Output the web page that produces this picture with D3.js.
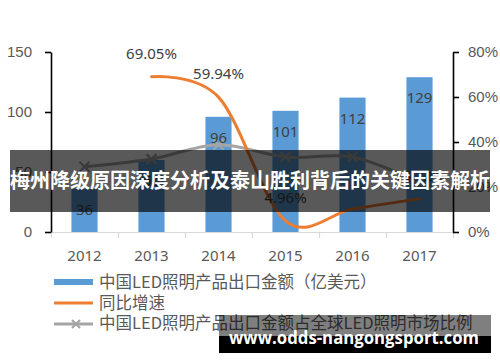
<!DOCTYPE html>
<html><head><meta charset="utf-8">
<script src="https://cdn.jsdelivr.net/npm/d3@7"></script>
<style>
html,body{margin:0;padding:0;background:#fff;}
svg{display:block;font-family:"Noto Sans","Noto Sans CJK SC",sans-serif;}
</style></head>
<body>
<svg id="c" width="500" height="362"></svg>
<script>
const years = ["2012","2013","2014","2015","2016","2017"];
const exportValues = [36, 60, 96, 101, 112, 129];
const growthYears = ["2013","2014","2015","2016","2017"];
const growthValues = [0.6905, 0.5994, 0.0496, 0.102, 0.1472];
const growthLabels = ["69.05%","59.94%","4.96%","","14.72%"];
const shareValues = [0.29, 0.324, 0.388, 0.333, 0.333, 0.22];
const leftTicks = [0, 50, 100, 150];
const rightTicks = [0, 0.2, 0.4, 0.6, 0.8];
const legendLabels = ["中国LED照明产品出口金额（亿美元）","同比增速","中国LED照明产品出口金额占全球LED照明市场比例"];
const bannerText = "梅州降级原因深度分析及泰山胜利背后的关键因素解析";
const watermarkText = "www.odds-nangongsport.com";

const BLUE="#5b9bd5", ORANGE="#ed7d31", GRAY="#a5a5a5", TXT="#595959", LBL="#404040";
const svg = d3.select("#c");
const L=51, R=453, T=52, B=232;

const x = d3.scaleBand().domain(years).range([L,R]).padding(0);
const xb = d3.scaleLinear().domain([0,years.length]).range([L,R]);
const yL = d3.scaleLinear().domain([0,150]).range([B,T]);
const yR = d3.scaleLinear().domain([0,0.8]).range([B,T]);
const cx = d => x(d) + x.bandwidth()/2;
const bw = x.bandwidth()*0.39;

// bottom axis ticks (category boundaries)
const gb = svg.append("g").attr("transform",`translate(0,${B})`)
  .call(d3.axisBottom(xb).tickValues(d3.range(years.length+1)).tickFormat("").tickSize(6).tickSizeOuter(0));
gb.selectAll("line,path").attr("stroke","#d9d9d9").attr("stroke-width",1.2);
const gbl = svg.append("g").attr("transform",`translate(0,${B})`)
  .call(d3.axisBottom(x).tickSize(0).tickPadding(18));
gbl.select(".domain").remove();
gbl.selectAll("text").attr("font-size",15).attr("fill",TXT).attr("font-family",'"Noto Sans",sans-serif');

// bars
svg.append("g").selectAll("rect").data(years).join("rect")
  .attr("x",(d)=>cx(d)-bw/2).attr("width",bw)
  .attr("y",(d,i)=>yL(exportValues[i])).attr("height",(d,i)=>B-yL(exportValues[i]))
  .attr("fill",BLUE);

// left axis
const gl = svg.append("g").attr("transform",`translate(${L},0)`)
  .call(d3.axisLeft(yL).tickValues(leftTicks).tickSize(6).tickSizeOuter(0).tickPadding(13));
gl.selectAll("line,path").attr("stroke","#000").attr("stroke-width",1.6);
gl.selectAll("text").attr("font-size",15).attr("fill",TXT);

// right axis
const gr = svg.append("g").attr("transform",`translate(${R},0)`)
  .call(d3.axisRight(yR).tickValues(rightTicks).tickFormat(d3.format(".0%")).tickSize(6).tickSizeOuter(0).tickPadding(9));
gr.selectAll("line,path").attr("stroke","#000").attr("stroke-width",1.6);
gr.selectAll("text").attr("font-size",15).attr("fill",TXT);

// gray share line
const shareLine = d3.line().x((d,i)=>cx(years[i])).y(d=>yR(d)).curve(d3.curveCardinal.tension(0));
svg.append("path").datum(shareValues).attr("d",shareLine)
  .attr("fill","none").attr("stroke",GRAY).attr("stroke-width",3);
const xMark = (s) => `M${-s},${-s}L${s},${s}M${-s},${s}L${s},${-s}`;
svg.append("g").selectAll("path").data(shareValues).join("path")
  .attr("transform",(d,i)=>`translate(${cx(years[i])},${yR(d)})`)
  .attr("d",xMark(5)).attr("stroke",GRAY).attr("stroke-width",2.2).attr("fill","none");

// orange growth line
const growthLine = d3.line().x((d,i)=>cx(growthYears[i])).y(d=>yR(d)).curve(d3.curveCardinal.tension(0));
svg.append("path").datum(growthValues).attr("d",growthLine)
  .attr("fill","none").attr("stroke",ORANGE).attr("stroke-width",3).attr("stroke-linecap","round");

// bar labels
svg.append("g").selectAll("text").data(years).join("text")
  .attr("x",d=>cx(d)).attr("y",(d,i)=>yL(exportValues[i])+26)
  .attr("text-anchor","middle").attr("font-size",15).attr("fill",LBL)
  .text((d,i)=>exportValues[i]);

// growth labels
svg.append("g").selectAll("text").data(growthYears).join("text")
  .attr("x",d=>cx(d)).attr("y",(d,i)=>yR(growthValues[i])-18)
  .attr("text-anchor","middle").attr("font-size",15).attr("fill",LBL)
  .text((d,i)=>growthLabels[i]);

// legend
const lg = svg.append("g");
lg.append("rect").attr("x",54).attr("y",279).attr("width",39).attr("height",6).attr("fill",BLUE);
lg.append("line").attr("x1",54).attr("x2",93).attr("y1",303).attr("y2",303).attr("stroke",ORANGE).attr("stroke-width",3);
lg.append("line").attr("x1",54).attr("x2",93).attr("y1",324).attr("y2",324).attr("stroke",GRAY).attr("stroke-width",3);
lg.append("path").attr("transform","translate(76,324)").attr("d",xMark(4)).attr("stroke",GRAY).attr("stroke-width",2.2);
lg.selectAll("text").data(legendLabels).join("text")
  .attr("x",99).attr("y",(d,i)=>288+i*20.5)
  .attr("font-size",16.5).attr("fill",TXT).attr("font-family",'"Noto Sans CJK SC","Noto Sans",sans-serif')
  .text(d=>d);

// banner
svg.append("rect").attr("x",10).attr("y",150).attr("width",480).attr("height",62).attr("fill","rgba(0,0,0,0.65)");
svg.append("text").attr("x",250).attr("y",188).attr("text-anchor","middle")
  .attr("font-size",20).attr("font-weight","bold").attr("fill","#fff")
  .attr("font-family",'"Noto Sans CJK SC",sans-serif')
  .attr("textLength",480).attr("lengthAdjust","spacingAndGlyphs")
  .text(bannerText);

// watermark
svg.append("rect").attr("x",219).attr("y",315).attr("width",272).attr("height",21).attr("fill","rgba(0,0,0,0.5)");
svg.append("rect").attr("x",219).attr("y",336).attr("width",272).attr("height",17).attr("fill","#000");
svg.append("text").attr("x",229).attr("y",344)
  .attr("font-size",17).attr("font-weight","bold").attr("fill","#fff")
  .attr("font-family",'"Open Sans","Noto Sans",sans-serif')
  .attr("textLength",250).attr("lengthAdjust","spacingAndGlyphs")
  .text(watermarkText);
</script>
</body></html>
